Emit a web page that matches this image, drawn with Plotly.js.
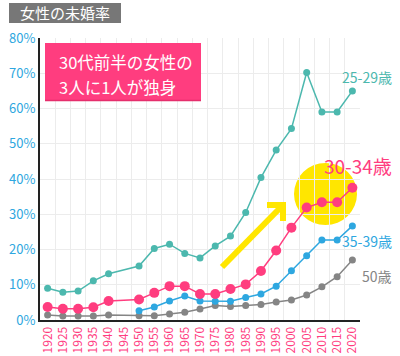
<!DOCTYPE html>
<html>
<head>
<meta charset="utf-8">
<script src="https://cdn.plot.ly/plotly-3.0.1.min.js"></script>
<style>html,body{margin:0;padding:0;background:#fff;}#chart{width:400px;height:356px;}</style>
</head>
<body>
<div id="chart"></div>
<script>
const years = ['1920','1925','1930','1935','1940','1945','1950','1955','1960','1965','1970','1975','1980','1985','1990','1995','2000','2005','2010','2015','2020'];
const age25_29 = [9.0, 7.9, 8.2, 11.1, 13.1, null, 15.3, 20.3, 21.5, 18.9, 17.6, 21.0, 23.8, 30.5, 40.4, 48.2, 54.3, 70.2, 59.0, 59.0, 65.0];
const age30_34 = [3.7, 3.2, 3.2, 3.6, 5.4, null, 5.8, 7.7, 9.6, 9.6, 7.4, 7.4, 8.8, 10.1, 13.9, 19.7, 26.2, 31.9, 33.4, 33.4, 37.5];
const age35_39 = [null, null, null, null, null, null, 2.6, 3.7, 5.4, 6.8, 5.4, 5.3, 5.3, 6.4, 7.4, 9.6, 14.0, 18.2, 22.7, 22.7, 26.7];
const age50 = [1.4, 1.1, 1.1, 1.1, 1.4, null, 1.2, 1.2, 1.7, 2.2, 3.1, 4.1, 3.8, 4.1, 4.4, 5.1, 5.7, 7.1, 9.4, 12.3, 17.0];
const yTicks = [0, 10, 20, 30, 40, 50, 60, 70, 80];
const seriesNames = ['25-29歳', '30-34歳', '35-39歳', '50歳'];
const chartTitle = '女性の未婚率';
const calloutLines = ['30代前半の女性の', '3人に1人が独身'];

const TEAL = '#4cb8ae', PINK = '#ff3d7f', BLUE = '#2ea7e0', GRAY = '#858585', YELLOW = '#ffe600';
const FONT = '"Noto Sans CJK JP", "Noto Sans", sans-serif';

function tr(y, color, size, name) {
  return {x: years, y: y, type: 'scatter', mode: 'lines+markers', name: name,
    connectgaps: true, line: {color: color, width: 1.5},
    marker: {color: color, size: size}, cliponaxis: false, hoverinfo: 'skip'};
}
const data = [
  tr(age50, GRAY, 7, seriesNames[3]),
  tr(age35_39, BLUE, 7, seriesNames[2]),
  tr(age25_29, TEAL, 7, seriesNames[0]),
  tr(age30_34, PINK, 10, seriesNames[1])
];

const py = p => (320 - p) / 282;   // pixel row -> paper y
const px = p => (p - 40) / 320;    // pixel col -> paper x

const layout = {
  width: 400, height: 356,
  margin: {l: 40, r: 40, t: 38, b: 36},
  paper_bgcolor: '#fff', plot_bgcolor: '#fff',
  showlegend: false,
  font: {family: FONT},
  xaxis: {type: 'category', categoryorder: 'array', categoryarray: years,
    range: [-0.5, 20.5], tickson: 'boundaries', ticks: '', tickangle: -90,
    tickfont: {color: PINK, size: 12}, showgrid: true, gridcolor: '#ececec', gridwidth: 1,
    showline: true, linecolor: '#222', linewidth: 2, zeroline: false, fixedrange: true},
  yaxis: {range: [0, 80], tickvals: yTicks, ticktext: yTicks.map(v => v + '%'),
    tickfont: {color: BLUE, size: 13}, ticks: '', showgrid: true, gridcolor: '#ececec',
    showline: true, linecolor: '#222', linewidth: 2, zeroline: false, fixedrange: true},
  shapes: [
    {type: 'circle', xref: 'paper', yref: 'paper', x0: px(294), x1: px(357), y0: py(225), y1: py(163),
      fillcolor: YELLOW, line: {width: 0}, layer: 'between'},
    {type: 'line', xref: 'paper', yref: 'paper', x0: px(222), y0: py(267), x1: px(281), y1: py(207),
      line: {color: YELLOW, width: 6}},
    {type: 'path', xref: 'paper', yref: 'paper',
      path: 'M ' + px(267) + ' ' + py(205) + ' L ' + px(283) + ' ' + py(205) + ' L ' + px(283) + ' ' + py(221),
      line: {color: YELLOW, width: 6}},
    {type: 'rect', xref: 'paper', yref: 'paper', x0: px(45), x1: px(201), y0: py(101), y1: py(43),
      fillcolor: PINK, line: {width: 0}},
    {type: 'line', xref: 'paper', yref: 'paper', x0: px(45), x1: px(201), y0: py(100.5), y1: py(100.5),
      line: {color: '#e52e6c', width: 1.5}},
    {type: 'rect', xref: 'paper', yref: 'paper', x0: px(9), x1: px(121), y0: py(23), y1: py(3),
      fillcolor: '#777777', line: {width: 0}}
  ],
  annotations: [
    {xref: 'paper', yref: 'paper', x: px(65), y: py(13), xanchor: 'center', yanchor: 'middle',
      text: chartTitle, showarrow: false, font: {color: '#fff', size: 15}},
    {xref: 'paper', yref: 'paper', x: px(57), y: py(61.5), xanchor: 'left', yanchor: 'middle',
      text: calloutLines[0], showarrow: false, font: {color: '#fff', size: 16.5}},
    {xref: 'paper', yref: 'paper', x: px(57), y: py(86.5), xanchor: 'left', yanchor: 'middle',
      text: calloutLines[1], showarrow: false, font: {color: '#fff', size: 16.5}},
    {xref: 'paper', yref: 'paper', x: px(394), y: py(77), xanchor: 'right', yanchor: 'middle',
      text: seriesNames[0], showarrow: false, font: {color: TEAL, size: 14}},
    {xref: 'paper', yref: 'paper', x: px(394), y: py(165), xanchor: 'right', yanchor: 'middle',
      text: seriesNames[1], showarrow: false, font: {color: PINK, size: 19}},
    {xref: 'paper', yref: 'paper', x: px(394), y: py(241), xanchor: 'right', yanchor: 'middle',
      text: seriesNames[2], showarrow: false, font: {color: BLUE, size: 14}},
    {xref: 'paper', yref: 'paper', x: px(394), y: py(276), xanchor: 'right', yanchor: 'middle',
      text: seriesNames[3], showarrow: false, font: {color: GRAY, size: 14}}
  ]
};
Plotly.newPlot('chart', data, layout, {staticPlot: true, displayModeBar: false});
</script>
</body>
</html>
